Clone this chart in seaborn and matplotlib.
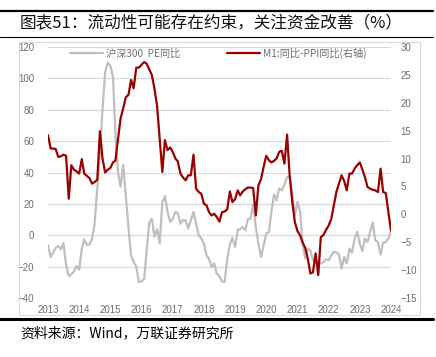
import numpy as np
import pandas as pd
import matplotlib
matplotlib.use("Agg")
import matplotlib.pyplot as plt
import matplotlib.dates as mdates
from matplotlib.lines import Line2D
from matplotlib.patches import Rectangle
import seaborn as sns

# ---------------- data ----------------
months = pd.date_range("2013-01-01", "2024-01-01", freq="MS")

pe_yoy = [
    -6.4, -13.8, -11, -8, -6.8, -9, -5, -19, -26, -25, -23, -19.6,
    -22, -8.5, -2.6, -6, -6, -2, 7, 30, 51, 80, 104, 110,
    108, 101, 65, 40, 31, 45, 25, 5, -13, -17, -20, -29.8,
    -29.5, -28, -10, 8, 10.6, -1, 3.8, -5, 21, 25, 15, 8.5,
    10.6, 14.9, 14, 7.4, 9.6, 9.6, 4.3, 9.6, 14.9, 7.4, 0, -2,
    -5.3, -12.8, -15, -20.2, -18, -24.5, -26, -29.4, -29.8, -15, -6, -1.7,
    -7.4, 3.5, 3.8, 5.3, 3.2, 10.4, 10.6, 20, 5, -5.3, -13.8, -6.4,
    1.1, 2.1, 14.9, 26, 22.3, 29.8, 28.7, 32.3, 37.2, 37.5, 25.5, 12.8,
    21.3, 15, -5, -14.9, -8.5, -9.6, -16, -16, -18, -18, -17, -15.3,
    -16, -12.8, -10.6, -11, -12, -21.3, -13.8, -18, -8.5, -11.1, -2.1, 2.1,
    -5.3, -10.2, -2.1, -4.3, 2.1, 8.1, -3.2, -4.3, -12.3, -4.7, -4.3, -2.1,
    2.6,
]

m1_ppi = [
    14.2, 11.8, 11.8, 11.7, 10.3, 10.4, 10.7, 10.5, 2.8, 8.8, 8.0, 7.7,
    7.3, 9.9, 7.3, 6.9, 6.5, 5.5, 5.8, 6.2, 14.9, 10, 7.5, 8.0,
    8.3, 9.3, 9.6, 13.5, 17.2, 19, 21.0, 21.4, 24.1, 22.6, 26.3, 26.3,
    26.8, 27.3, 27.0, 26, 25.0, 22.5, 19.5, 13.6, 7.6, 13.3, 11.5, 12.0,
    11.2, 10, 9.5, 7.3, 6.6, 6.1, 7.0, 7.0, 10.7, 4.6, 4.0, 3.7,
    1.9, 1.6, 0.4, -0.2, 0.1, -0.5, -1.3, 0.4, 0.5, 0.9, 4.1, 2.2,
    2.7, 4.3, 3.4, 4.1, 4.5, 4.8, 4.8, 4.7, -0.2, 5.2, 6.3, 8.5,
    10.5, 9.7, 9.3, 9.6, 10.0, 11.2, 11.4, 9.1, 14.3, 7.0, 2.2, -1.4,
    -3.0, -3.8, -5.0, -6.0, -7.9, -10.6, -10.4, -7.0, -10.9, -4.1, -3.7, -2.8,
    -2.0, -0.8, 1.5, 4.0, 5.5, 7.0, 6.0, 4.3, 7.3, 7.3, 8.2, 8.8,
    9.3, 8.0, 6.7, 4.9, 4.6, 4.4, 4.3, 4.0, 8.2, 4.0, 3.8, 0.4,
    -2.9,
]

year_labels = [str(y) for y in range(2013, 2025)]
left_ticks = [120, 100, 80, 60, 40, 20, 0, -20, -40]
right_ticks = [30, 25, 20, 15, 10, 5, 0, -5, -10, -15]

title = "图表51：流动性可能存在约束，关注资金改善（%）"
source = "资料来源：Wind，万联证券研究所"
label_pe = "沪深300  PE同比"
label_m1 = "M1:同比-PPI同比(右轴)"

df = pd.DataFrame({"date": months, "pe": pe_yoy, "m1": m1_ppi})

# ---------------- style ----------------
sns.set_theme(style="white")
plt.rcParams["font.family"] = ["Noto Sans CJK SC", "DejaVu Sans"]

W, H = 436, 357
fig = plt.figure(figsize=(W / 100, H / 100), dpi=100)

GRAY = "#BFBFBF"
RED = "#990000"
TICK = "#6E6E6E"

# outer light box around the chart
fig.patches.append(Rectangle((19 / W, 1 - 315 / H), (420 - 19) / W, (315 - 42) / H,
                             transform=fig.transFigure, fill=False,
                             edgecolor="#D9D9D9", linewidth=0.8))

ax = fig.add_axes([48 / W, 1 - 298 / H, (391 - 48) / W, (298 - 47) / H])
ax2 = ax.twinx()

sns.lineplot(data=df, x="date", y="pe", ax=ax, color=GRAY, linewidth=1.6)
sns.lineplot(data=df, x="date", y="m1", ax=ax2, color=RED, linewidth=1.6)

ax.set_xlim(pd.Timestamp("2013-01-01"), pd.Timestamp("2024-01-01"))
ax.set_ylim(-40, 120)
ax2.set_ylim(-15, 30)
ax.set_yticks(left_ticks)
ax2.set_yticks(right_ticks)
ax.set_xticks([pd.Timestamp(f"{y}-01-01") for y in range(2013, 2025)])
ax.set_xticklabels(year_labels)

ax.grid(axis="y", color="#D9D9D9", linewidth=0.9)
ax.grid(axis="x", visible=False)
ax2.grid(False)
for a in (ax, ax2):
    for s in a.spines.values():
        s.set_visible(False)
    a.set_xlabel("")
    a.set_ylabel("")
ax.patch.set_visible(False)

for lab in ax.get_yticklabels() + ax.get_xticklabels() + ax2.get_yticklabels():
    lab.set_fontfamily("Liberation Sans")
    lab.set_fontsize(7)
    lab.set_color(TICK)
ax.tick_params(axis="y", length=0, pad=10)
ax.tick_params(axis="x", length=0, pad=5)
ax2.tick_params(axis="y", length=0, pad=7)

handles = [Line2D([0], [0], color=GRAY, linewidth=1.6),
           Line2D([0], [0], color=RED, linewidth=1.6)]
leg = ax2.legend(handles, [label_pe, label_m1], ncol=2, frameon=False,
                 loc="center left", bbox_to_anchor=(70 / W, 1 - 53 / H),
                 bbox_transform=fig.transFigure, fontsize=7.3,
                 handlelength=3.3, handletextpad=0.25, columnspacing=4.6,
                 borderpad=0, borderaxespad=0)
for t in leg.get_texts():
    t.set_color("#6E6E6E")

# title and rules
fig.add_artist(Line2D([0, 0.993], [1 - 11 / H, 1 - 11 / H], color="black", linewidth=1.6,
                      transform=fig.transFigure))
fig.add_artist(Line2D([0, 0.993], [1 - 37 / H, 1 - 37 / H], color="black", linewidth=0.8,
                      transform=fig.transFigure))
fig.text(20 / W, 1 - 24 / H, title, fontsize=12, va="center", ha="left", color="#111111")

fig.add_artist(Line2D([0, 0.993], [1 - 319 / H, 1 - 319 / H], color="black", linewidth=2.2,
                      transform=fig.transFigure))
fig.text(20 / W, 1 - 333 / H, source, fontsize=10, va="center", ha="left",
         color="black", fontstyle="italic")

fig.savefig("out.png", dpi=100)
